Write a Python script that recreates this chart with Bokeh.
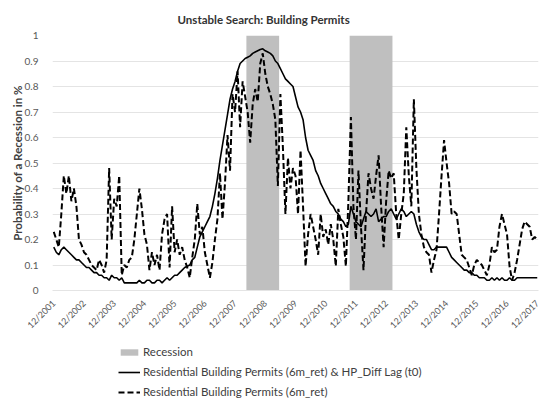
from bokeh.plotting import figure
from bokeh.layouts import column
from bokeh.models import Range1d, FixedTicker, Legend, LegendItem, ColumnDataSource
from bokeh.embed import file_html
from bokeh.resources import INLINE
import pandas as pd

# ---- data (monthly, 12/2001 .. 12/2017) ----
start_month = "2001-12"
solid_values = [
    0.17, 0.15, 0.14, 0.16, 0.17, 0.16, 0.15, 0.14, 0.13, 0.12, 0.12, 0.11,
    0.10, 0.09, 0.09, 0.08, 0.07, 0.07, 0.06, 0.06, 0.05, 0.05, 0.04, 0.06,
    0.05, 0.05, 0.04, 0.05, 0.03, 0.03, 0.03, 0.03, 0.03, 0.03, 0.04, 0.03,
    0.03, 0.04, 0.04, 0.03, 0.03, 0.04, 0.04, 0.03, 0.04, 0.05, 0.04, 0.05,
    0.06, 0.06, 0.07, 0.08, 0.09, 0.095, 0.10, 0.12, 0.13, 0.17, 0.21, 0.23,
    0.25, 0.27, 0.29, 0.33, 0.38, 0.44, 0.51, 0.57, 0.63, 0.69, 0.75, 0.79,
    0.82, 0.86, 0.89, 0.90, 0.91, 0.915, 0.92, 0.93, 0.935, 0.94, 0.945, 0.948,
    0.94, 0.935, 0.93, 0.92, 0.90, 0.89, 0.87, 0.85, 0.83, 0.82, 0.81, 0.80,
    0.76, 0.72, 0.70, 0.67, 0.60, 0.55, 0.53, 0.51, 0.47, 0.45, 0.42, 0.40,
    0.38, 0.36, 0.34, 0.33, 0.31, 0.30, 0.28, 0.27, 0.25, 0.26, 0.33, 0.30,
    0.27, 0.26, 0.25, 0.28, 0.31, 0.30, 0.29, 0.30, 0.32, 0.27, 0.28, 0.29,
    0.29, 0.31, 0.32, 0.30, 0.28, 0.30, 0.32, 0.31, 0.29, 0.30, 0.31, 0.30,
    0.26, 0.23, 0.21, 0.20, 0.20, 0.18, 0.16, 0.16, 0.17, 0.17, 0.17, 0.17,
    0.17, 0.15, 0.13, 0.12, 0.11, 0.10, 0.09, 0.08, 0.08, 0.07, 0.07, 0.06,
    0.06, 0.05, 0.05, 0.05, 0.04, 0.04, 0.05, 0.04, 0.05, 0.04, 0.05, 0.04,
    0.04, 0.05, 0.04, 0.04, 0.05, 0.05, 0.05, 0.05, 0.05, 0.05, 0.05, 0.05,
    0.05,
]
dashed_values = [
    0.23, 0.20, 0.17, 0.30, 0.45, 0.38, 0.45, 0.35, 0.40, 0.33, 0.20, 0.18,
    0.15, 0.14, 0.12, 0.10, 0.09, 0.08, 0.12, 0.10, 0.07, 0.12, 0.48, 0.20,
    0.36, 0.33, 0.45, 0.06, 0.10, 0.09, 0.12, 0.13, 0.20, 0.30, 0.40, 0.32,
    0.22, 0.18, 0.08, 0.15, 0.10, 0.14, 0.08, 0.22, 0.28, 0.30, 0.09, 0.33,
    0.15, 0.20, 0.14, 0.17, 0.12, 0.09, 0.05, 0.13, 0.20, 0.34, 0.22, 0.25,
    0.15, 0.10, 0.05, 0.11, 0.20, 0.28, 0.46, 0.28, 0.42, 0.61, 0.47, 0.77,
    0.70, 0.86, 0.64, 0.82, 0.76, 0.70, 0.58, 0.73, 0.79, 0.74, 0.89, 0.93,
    0.85, 0.80, 0.77, 0.73, 0.67, 0.41, 0.77, 0.56, 0.30, 0.52, 0.40, 0.48,
    0.45, 0.30, 0.55, 0.33, 0.095, 0.22, 0.30, 0.25, 0.20, 0.14, 0.30, 0.21,
    0.24, 0.18, 0.26, 0.20, 0.095, 0.32, 0.26, 0.21, 0.095, 0.35, 0.68, 0.33,
    0.20, 0.47, 0.25, 0.08, 0.30, 0.46, 0.40, 0.36, 0.45, 0.53, 0.33, 0.17,
    0.35, 0.47, 0.44, 0.46, 0.30, 0.20, 0.30, 0.38, 0.64, 0.45, 0.33, 0.75,
    0.48, 0.30, 0.22, 0.17, 0.15, 0.14, 0.07, 0.12, 0.16, 0.30, 0.45, 0.59,
    0.50, 0.42, 0.30, 0.31, 0.30, 0.22, 0.14, 0.13, 0.12, 0.09, 0.06, 0.10,
    0.12, 0.11, 0.10, 0.08, 0.06, 0.10, 0.17, 0.15, 0.16, 0.25, 0.30, 0.26,
    0.22, 0.095, 0.04, 0.07, 0.12, 0.18, 0.24, 0.27, 0.26, 0.25, 0.20, 0.21,
    0.20,
]
recession_first = ["2008-05", "2011-10"]
recession_last = ["2009-05", "2013-02"]
x_tick_labels = ["12/2001", "12/2002", "12/2003", "12/2004", "12/2005", "12/2006",
                 "12/2007", "12/2008", "12/2009", "12/2010", "12/2011", "12/2012",
                 "12/2013", "12/2014", "12/2015", "12/2016", "12/2017"]
y_ticks = [0, 0.1, 0.2, 0.3, 0.4, 0.5, 0.6, 0.7, 0.8, 0.9, 1]
y_tick_labels = ["0", "0.1", "0.2", "0.3", "0.4", "0.5", "0.6", "0.7", "0.8", "0.9", "1"]

title_text = "Unstable Search: Building Permits"
y_label = "Probability of a Recession in %"
legend_labels = ["Recession",
                 "Residential Building Permits (6m_ret) & HP_Diff Lag (t0)",
                 "Residential Building Permits (6m_ret)"]

# ---- derived ----
months = pd.date_range(start_month, periods=len(solid_values), freq="MS")
idx = list(range(len(months)))
month_pos = {d.strftime("%Y-%m"): i for i, d in enumerate(months)}
rec_left = [month_pos[s] - 0.5 for s in recession_first]
rec_right = [month_pos[e] + 0.5 for e in recession_last]
x_ticks = [month_pos[f"{lab[3:]}-12"] for lab in x_tick_labels]

FONT = "Lato"
REC_COLOR = "#bfbfbf"

line_src = ColumnDataSource(dict(x=idx, solid=solid_values, dashed=dashed_values))
rec_src = ColumnDataSource(dict(left=rec_left, right=rec_right,
                                bottom=[0] * len(rec_left), top=[1] * len(rec_left)))

# ---- main chart ----
p = figure(width=545, height=337, output_backend="svg", toolbar_location=None,
           x_range=Range1d(-0.5, len(idx) - 0.5), y_range=Range1d(0, 1),
           min_border_left=52, min_border_right=7, min_border_top=35,
           min_border_bottom=46)
p.outline_line_color = None
p.background_fill_color = "white"

p.title.text = title_text
p.title.align = "left"
p.title.offset = 125
p.title.text_font = FONT
p.title.text_font_style = "bold"
p.title.text_font_size = "11.5px"
p.title.text_color = "#333333"
p.title.standoff = 19

p.quad(left="left", right="right", bottom="bottom", top="top", source=rec_src,
       fill_color=REC_COLOR, line_color=None)
p.line("x", "solid", source=line_src, line_color="black", line_width=1.6)
p.line("x", "dashed", source=line_src, line_color="black", line_width=2,
       line_dash="6 3")

p.xgrid.grid_line_color = None
p.ygrid.grid_line_color = "#e4e4e4"
p.ygrid.ticker = FixedTicker(ticks=y_ticks)

p.yaxis.ticker = FixedTicker(ticks=y_ticks)
p.yaxis.major_label_overrides = {t: l for t, l in zip(y_ticks, y_tick_labels)}
p.yaxis.axis_line_color = None
p.yaxis.major_tick_line_color = None
p.yaxis.minor_tick_line_color = None
p.yaxis.major_label_text_font = FONT
p.yaxis.major_label_text_font_size = "10px"
p.yaxis.major_label_text_color = "#595959"
p.yaxis.major_label_standoff = 8
p.yaxis.axis_label = y_label
p.yaxis.axis_label_text_font = FONT
p.yaxis.axis_label_text_font_style = "bold"
p.yaxis.axis_label_text_font_size = "11.5px"
p.yaxis.axis_label_text_color = "#404040"
p.yaxis.axis_label_standoff = -2

p.xaxis.ticker = FixedTicker(ticks=x_ticks)
p.xaxis.major_label_overrides = {t: l for t, l in zip(x_ticks, x_tick_labels)}
p.xaxis.axis_line_color = "#e4e4e4"
p.xaxis.major_tick_line_color = None
p.xaxis.minor_tick_line_color = None
p.xaxis.major_label_orientation = 0.785398
p.xaxis.major_label_text_font = FONT
p.xaxis.major_label_text_font_size = "9px"
p.xaxis.major_label_text_color = "#595959"
p.xaxis.major_label_standoff = 5

# ---- legend strip below the chart ----
q = figure(width=545, height=67, output_backend="svg", toolbar_location=None,
           x_axis_location=None, y_axis_location=None,
           x_range=Range1d(-1000, -999), y_range=Range1d(-1000, -999),
           min_border_left=0, min_border_right=0, min_border_top=0,
           min_border_bottom=0)
q.outline_line_color = None
q.grid.visible = False
r0 = q.quad(left="left", right="right", bottom="bottom", top="top", source=rec_src,
            fill_color=REC_COLOR, line_color=None)
r1 = q.line("x", "solid", source=line_src, line_color="black", line_width=1.6)
r2 = q.line("x", "dashed", source=line_src, line_color="black", line_width=2,
            line_dash="6 3")

legend = Legend(items=[LegendItem(label=legend_labels[0], renderers=[r0]),
                       LegendItem(label=legend_labels[1], renderers=[r1]),
                       LegendItem(label=legend_labels[2], renderers=[r2])],
                location=(66, 6), orientation="vertical",
                label_text_font=FONT, label_text_font_size="11.5px",
                label_text_color="#404040", glyph_width=22, glyph_height=8,
                label_height=13, spacing=7, padding=0, margin=0,
                label_standoff=3, border_line_color=None,
                background_fill_alpha=0)
q.add_layout(legend, "center")

layout = column(p, q, spacing=0)
open("out.html", "w").write(file_html(layout, INLINE))
